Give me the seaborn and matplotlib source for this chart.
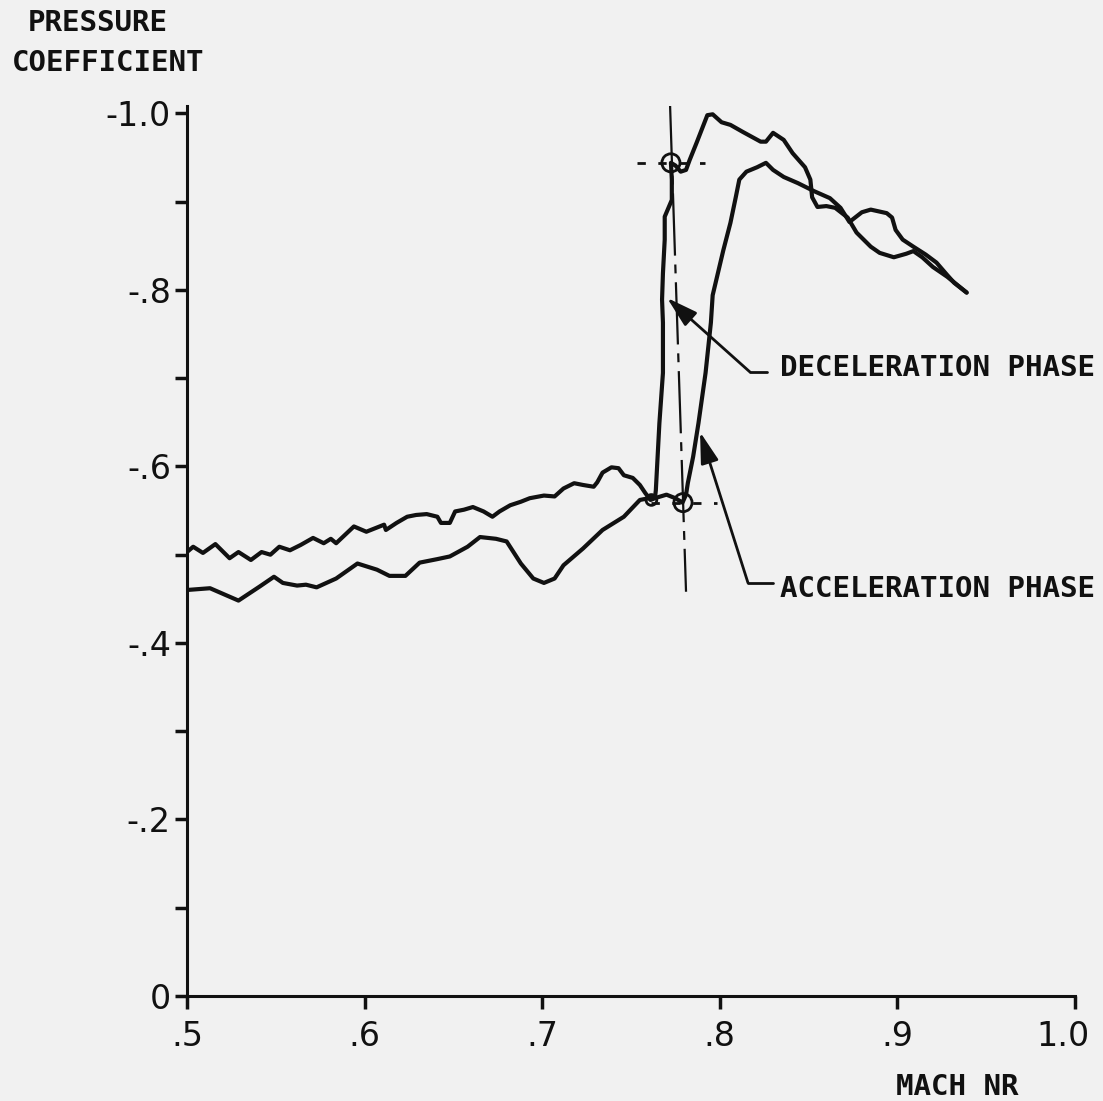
import seaborn as sns
import matplotlib.pyplot as plt
from matplotlib.transforms import ScaledTranslation

# acceleration phase: from M=.5 along the lower trace, through the lower circle,
# up the right-hand branch and over to the tip near M=.94
acc_mach = [0.500, 0.513, 0.529, 0.541, 0.549, 0.554, 0.562, 0.567, 0.573, 0.584,
            0.596, 0.607, 0.614, 0.623, 0.631, 0.641, 0.648, 0.658, 0.665, 0.674,
            0.680, 0.688, 0.695, 0.701, 0.707, 0.712, 0.723, 0.734, 0.746, 0.755,
            0.760, 0.765, 0.770, 0.775, 0.779, 0.781, 0.782, 0.785, 0.788, 0.792,
            0.795, 0.796, 0.798, 0.802, 0.806, 0.809, 0.811, 0.815, 0.821, 0.826,
            0.830, 0.836, 0.844, 0.853, 0.862, 0.868, 0.873, 0.880, 0.885, 0.894,
            0.897, 0.899, 0.903, 0.909, 0.916, 0.922, 0.928, 0.932, 0.939]
acc_cp = [-0.460, -0.462, -0.448, -0.464, -0.475, -0.468, -0.465, -0.466, -0.463, -0.473,
          -0.490, -0.483, -0.476, -0.476, -0.491, -0.495, -0.498, -0.509, -0.520, -0.518,
          -0.515, -0.490, -0.473, -0.468, -0.473, -0.488, -0.507, -0.528, -0.543, -0.562,
          -0.564, -0.565, -0.568, -0.564, -0.559, -0.568, -0.581, -0.611, -0.649, -0.706,
          -0.763, -0.794, -0.811, -0.845, -0.876, -0.905, -0.925, -0.934, -0.939, -0.944,
          -0.936, -0.928, -0.921, -0.912, -0.904, -0.893, -0.877, -0.888, -0.891, -0.887,
          -0.882, -0.868, -0.857, -0.849, -0.840, -0.831, -0.817, -0.808, -0.797]

# deceleration phase, high part: from the tip back over the -1.0 peak and down the left branch
dec_hi_mach = [0.939, 0.928, 0.920, 0.914, 0.909, 0.905, 0.898, 0.890, 0.885, 0.877,
               0.872, 0.865, 0.860, 0.855, 0.852, 0.851, 0.848, 0.841, 0.836, 0.830,
               0.826, 0.823, 0.813, 0.806, 0.801, 0.796, 0.793, 0.787, 0.783, 0.781,
               0.778, 0.775, 0.7725, 0.773, 0.773, 0.769, 0.769, 0.768, 0.7675, 0.768,
               0.768, 0.766, 0.765, 0.764, 0.7635]
dec_hi_cp = [-0.797, -0.815, -0.826, -0.837, -0.844, -0.841, -0.837, -0.842, -0.849, -0.865,
             -0.882, -0.893, -0.895, -0.894, -0.905, -0.925, -0.939, -0.955, -0.970, -0.978,
             -0.968, -0.968, -0.979, -0.987, -0.990, -0.999, -0.998, -0.967, -0.947, -0.936,
             -0.934, -0.941, -0.944, -0.925, -0.902, -0.883, -0.857, -0.819, -0.789, -0.763,
             -0.706, -0.649, -0.611, -0.573, -0.564]

# deceleration phase, low part (listed with rising Mach, drawn backwards)
dec_lo_mach = [0.500, 0.5035, 0.509, 0.516, 0.524, 0.529, 0.536, 0.542, 0.547, 0.552,
               0.558, 0.564, 0.571, 0.577, 0.581, 0.584, 0.594, 0.601, 0.611, 0.612,
               0.618, 0.624, 0.629, 0.635, 0.641, 0.643, 0.648, 0.651, 0.656, 0.661,
               0.667, 0.672, 0.676, 0.682, 0.688, 0.693, 0.701, 0.707, 0.712, 0.718,
               0.723, 0.729, 0.731, 0.734, 0.739, 0.743, 0.746, 0.751, 0.755, 0.758, 0.761]
dec_lo_cp = [-0.503, -0.509, -0.502, -0.512, -0.496, -0.503, -0.494, -0.503, -0.500, -0.509,
             -0.505, -0.511, -0.519, -0.513, -0.518, -0.513, -0.532, -0.526, -0.534, -0.528,
             -0.536, -0.543, -0.545, -0.546, -0.543, -0.536, -0.536, -0.549, -0.551, -0.554,
             -0.549, -0.543, -0.549, -0.556, -0.560, -0.564, -0.567, -0.566, -0.575, -0.581,
             -0.579, -0.577, -0.582, -0.593, -0.599, -0.598, -0.590, -0.587, -0.579, -0.570, -0.562]

# reference marks
circ_mach = [0.7725, 0.7793, 0.7615]
circ_cp = [-0.944, -0.559, -0.562]
guide_top_mach = [0.7534, 0.7917]
guide_top_cp = [-0.944, -0.944]
guide_low_mach = [0.7615, 0.7984]
guide_low_cp = [-0.559, -0.559]
guide_vert_mach = [0.7720, 0.7810]
guide_vert_cp = [-1.010, -0.458]

x_ticks = [0.5, 0.6, 0.7, 0.8, 0.9, 1.0]
x_labels = ['.5', '.6', '.7', '.8', '.9', '1.0']
y_ticks = [0, -0.2, -0.4, -0.6, -0.8, -1.0]
y_labels = ['0', '-.2', '-.4', '-.6', '-.8', '-1.0']
y_minor = [-0.1, -0.3, -0.5, -0.7, -0.9]

sns.set_style('white')
plt.rcParams['font.family'] = ['DejaVu Sans Mono', 'DejaVu Sans']
bg = '#f1f1f1'
ink = '#111111'
lab = dict(fontsize=21, fontweight='bold', color=ink)
head = '-|>,head_length=1.9,head_width=0.55'

fig = plt.figure(figsize=(11.03, 11.01), dpi=100, facecolor=bg)
ax = fig.add_axes([0.1695, 0.0954, 0.8051, 0.8080], facecolor=bg)

sns.lineplot(x=acc_mach, y=acc_cp, sort=False, estimator=None, color=ink, lw=3.0, ax=ax)
sns.lineplot(x=dec_hi_mach + dec_lo_mach[::-1], y=dec_hi_cp + dec_lo_cp[::-1],
             sort=False, estimator=None, color=ink, lw=3.0, ax=ax)

# guides
ax.plot(guide_top_mach, guide_top_cp, color=ink, lw=2, ls=(0, (3, 4.5)))
ax.plot(guide_low_mach, guide_low_cp, color=ink, lw=2, ls=(0, (3, 4.5)))
ax.plot(guide_vert_mach, guide_vert_cp, color=ink, lw=1.6, ls=(0, (28, 4, 4, 4)))
sns.scatterplot(x=circ_mach, y=circ_cp, s=[170, 170, 60], marker='o',
                facecolors='none', edgecolor=ink, linewidth=2, ax=ax, legend=False)

# arrows + labels
ax.plot([0.8170, 0.8266], [-0.707, -0.707], color=ink, lw=2)
ax.annotate('', xy=(0.7703, -0.791), xytext=(0.8170, -0.707),
            arrowprops=dict(arrowstyle=head, color=ink, lw=2, shrinkA=0, shrinkB=0))
ax.text(0.8339, -0.712, 'DECELERATION PHASE', va='center', ha='left', **lab)

ax.plot([0.8159, 0.8300], [-0.468, -0.468], color=ink, lw=2)
ax.annotate('', xy=(0.7889, -0.639), xytext=(0.8159, -0.468),
            arrowprops=dict(arrowstyle=head, color=ink, lw=2, shrinkA=0, shrinkB=0))
ax.text(0.8339, -0.461, 'ACCELERATION PHASE', va='center', ha='left', **lab)

ax.set_xlim(0.5, 1.0)
ax.set_ylim(0, -1.008)
ax.set_xticks(x_ticks)
ax.set_xticklabels(x_labels, fontsize=24, family='DejaVu Sans')
ax.set_yticks(y_ticks)
ax.set_yticklabels(y_labels, fontsize=24, family='DejaVu Sans')
ax.set_yticks(y_minor, minor=True)
ax.tick_params(axis='x', which='both', bottom=True, direction='out', length=9.5,
               width=2.5, pad=8, colors=ink)
ax.tick_params(axis='y', which='both', left=True, direction='out', length=8.5,
               width=2.5, pad=3, colors=ink)
# the "1.0" label sits a little left of its tick in the original
last = ax.get_xticklabels()[-1]
last.set_transform(last.get_transform() + ScaledTranslation(-0.12, 0, fig.dpi_scale_trans))
ax.set_xlabel('')
ax.set_ylabel('')
for side in ['top', 'right']:
    ax.spines[side].set_visible(False)
for side in ['left', 'bottom']:
    ax.spines[side].set_linewidth(2.2)
    ax.spines[side].set_color(ink)

fig.text(0.0889, 0.979, 'PRESSURE', ha='center', va='center', **lab)
fig.text(0.098, 0.9428, 'COEFFICIENT', ha='center', va='center', **lab)
fig.text(0.8677, 0.0127, 'MACH NR', ha='center', va='center', **lab)

fig.savefig('out.png', dpi=100, facecolor=bg)
